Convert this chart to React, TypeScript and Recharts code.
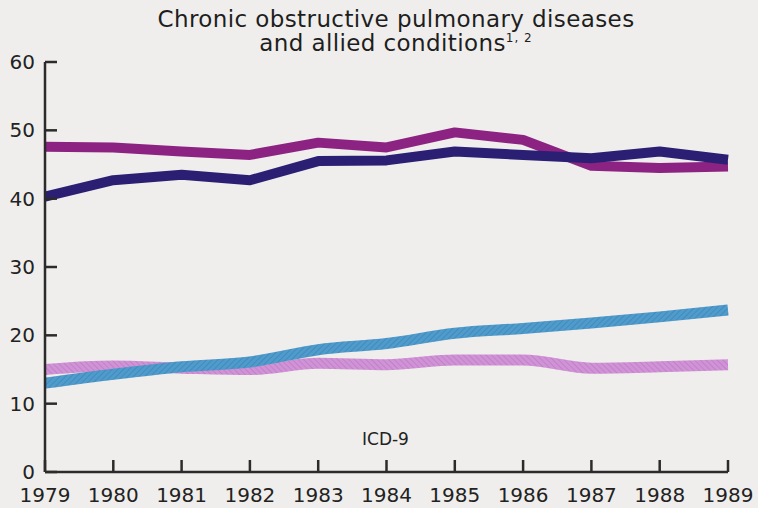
import React from 'react'
import { LineChart, Line, XAxis, YAxis } from 'recharts'

const years = ['1979', '1980', '1981', '1982', '1983', '1984', '1985', '1986', '1987', '1988', '1989']
const magentaValues = [47.6, 47.5, 46.9, 46.4, 48.2, 47.5, 49.7, 48.6, 44.8, 44.5, 44.7]
const navyValues = [40.3, 42.7, 43.5, 42.7, 45.5, 45.6, 46.9, 46.4, 45.9, 46.9, 45.7]
const blueValues = [13.0, 14.3, 15.4, 16.1, 17.9, 18.8, 20.3, 21.0, 21.8, 22.7, 23.7]
const pinkValues = [15.0, 15.5, 15.2, 15.0, 15.9, 15.7, 16.4, 16.4, 15.2, 15.4, 15.7]
const yTicks = [0, 10, 20, 30, 40, 50, 60]

const data = years.map((year, i) => ({
  year,
  magenta: magentaValues[i],
  navy: navyValues[i],
  blue: blueValues[i],
  pink: pinkValues[i]
}))

const FONT = '"DejaVu Sans", sans-serif'
const AXIS = '#2b2b2b'
const BG = '#efeeec'

export default function App() {
  return (
    <div style={{ position: 'absolute', left: 0, top: 0, width: 758, height: 508, background: BG, fontFamily: FONT }}>
      <div style={{ position: 'absolute', left: 0, top: 7, width: 792, textAlign: 'center', fontSize: 23, lineHeight: '24px', letterSpacing: 0.4, color: '#1e1e1e' }}>
        Chronic obstructive pulmonary diseases
        <br />
        and allied conditions<sup style={{ fontSize: 12, verticalAlign: 'top', lineHeight: '14px', letterSpacing: 1 }}>1, 2</sup>
      </div>
      <div style={{ position: 'absolute', left: 362, top: 429, fontSize: 17, color: '#222' }}>ICD-9</div>
      <LineChart
        width={758}
        height={508}
        data={data}
        margin={{ top: 62, right: 30, bottom: 0, left: 0 }}
      >
        <defs>
          <pattern id="blueHatch" width="4" height="4" patternUnits="userSpaceOnUse" patternTransform="rotate(45)">
            <rect width="4" height="4" fill="#4f9bcb" />
            <line x1="0" y1="0" x2="0" y2="4" stroke="#3d86b8" strokeWidth="1.5" />
          </pattern>
          <pattern id="pinkHatch" width="4" height="4" patternUnits="userSpaceOnUse" patternTransform="rotate(-45)">
            <rect width="4" height="4" fill="#d093d6" />
            <line x1="0" y1="0" x2="0" y2="4" stroke="#bf7ac6" strokeWidth="1.5" />
          </pattern>
        </defs>
        <XAxis
          dataKey="year"
          height={36}
          interval={0}
          axisLine={{ stroke: AXIS, strokeWidth: 2.5 }}
          tickLine={{ stroke: AXIS, strokeWidth: 2.5 }}
          tickSize={-12}
          tickMargin={28}
          tick={{ fill: '#222', fontSize: 20, fontFamily: FONT }}
        />
        <YAxis
          width={45}
          domain={[0, 60]}
          ticks={yTicks}
          interval={0}
          axisLine={{ stroke: AXIS, strokeWidth: 2.5 }}
          tickLine={{ stroke: AXIS, strokeWidth: 2.5 }}
          tickSize={-12}
          tickMargin={22}
          tick={{ fill: '#222', fontSize: 20, fontFamily: FONT }}
        />
        <YAxis
          yAxisId="right"
          orientation="right"
          width={0}
          domain={[0, 60]}
          tick={false}
          tickLine={false}
          axisLine={{ stroke: AXIS, strokeWidth: 2.5 }}
        />
        <Line type="monotone" dataKey="pink" stroke="url(#pinkHatch)" strokeWidth={11} dot={false} activeDot={false} isAnimationActive={false} />
        <Line type="monotone" dataKey="blue" stroke="url(#blueHatch)" strokeWidth={11} dot={false} activeDot={false} isAnimationActive={false} />
        <Line type="linear" dataKey="magenta" stroke="#8c2382" strokeWidth={10} strokeLinejoin="round" dot={false} activeDot={false} isAnimationActive={false} />
        <Line type="linear" dataKey="navy" stroke="#2b1f74" strokeWidth={10} strokeLinejoin="round" dot={false} activeDot={false} isAnimationActive={false} />
      </LineChart>
    </div>
  )
}
